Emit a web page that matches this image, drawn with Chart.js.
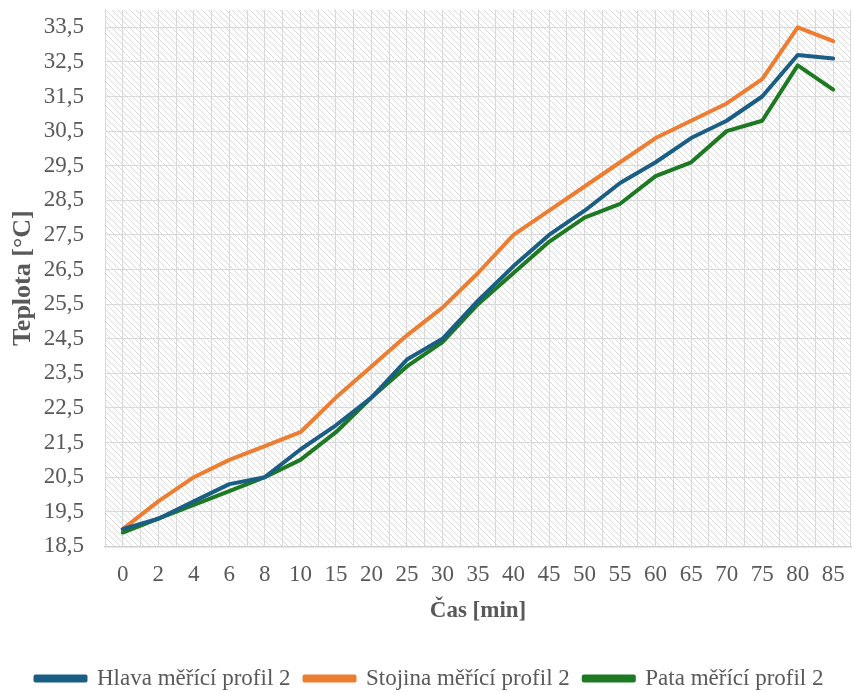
<!DOCTYPE html>
<html>
<head>
<meta charset="utf-8">
<script src="https://cdn.jsdelivr.net/npm/chart.js@4.4.0/dist/chart.umd.min.js"></script>
<style>
    html, body { margin: 0; padding: 0; background: #fff; }
    #wrap { width: 852px; height: 693px; }
</style>
</head>
<body>
<div id="wrap"><canvas id="teplotaChart"></canvas></div>
<script>
const casMin = ['0', '2', '4', '6', '8', '10', '15', '20', '25', '30', '35', '40', '45', '50', '55', '60', '65', '70', '75', '80', '85'];
const hlava = [19.0, 19.3, 19.8, 20.3, 20.5, 21.3, 22.0, 22.8, 23.9, 24.5, 25.6, 26.6, 27.5, 28.2, 29.0, 29.6, 30.3, 30.8, 31.5, 32.7, 32.6];
const stojina = [19.0, 19.8, 20.5, 21.0, 21.4, 21.8, 22.8, 23.7, 24.6, 25.4, 26.4, 27.5, 28.2, 28.9, 29.6, 30.3, 30.8, 31.3, 32.0, 33.5, 33.1];
const pata = [18.9, 19.3, 19.7, 20.1, 20.5, 21.0, 21.8, 22.8, 23.7, 24.4, 25.5, 26.4, 27.3, 28.0, 28.4, 29.2, 29.6, 30.5, 30.8, 32.4, 31.7];
const yTicks = [18.5, 19.5, 20.5, 21.5, 22.5, 23.5, 24.5, 25.5, 26.5, 27.5, 28.5, 29.5, 30.5, 31.5, 32.5, 33.5];

const serif = "'Liberation Serif', 'Times New Roman', serif";
const textColor = '#595959';
const gridColor = '#d9d9d9';

// diagonal hatch for the plot area
function makeHatch() {
    const c = document.createElement('canvas');
    c.width = 6;
    c.height = 6;
    const g = c.getContext('2d');
    g.strokeStyle = '#dcdcdc';
    g.lineWidth = 1;
    g.beginPath();
    g.moveTo(-1, -1);
    g.lineTo(7, 7);
    g.moveTo(-1, 5);
    g.lineTo(1, 7);
    g.moveTo(5, -1);
    g.lineTo(7, 1);
    g.stroke();
    return c;
}

const hatchPlugin = {
    id: 'hatch',
    beforeDraw(chart) {
        const a = chart.chartArea;
        const ctx = chart.ctx;
        ctx.save();
        ctx.fillStyle = ctx.createPattern(makeHatch(), 'repeat');
        ctx.fillRect(a.left, a.top, a.right - a.left, a.bottom - a.top);
        ctx.restore();
    }
};

function serie(label, values, color) {
    return {
        label: label,
        data: values,
        borderColor: color,
        backgroundColor: color,
        borderWidth: 4,
        pointRadius: 0,
        pointHoverRadius: 0,
        tension: 0,
        fill: false,
        borderJoinStyle: 'round',
        borderCapStyle: 'round'
    };
}

const config = {
    type: 'line',
    data: {
        labels: casMin,
        datasets: [
            serie('Hlava měřící profil 2', hlava, '#1b5e85'),
            serie('Stojina měřící profil 2', stojina, '#ed7d31'),
            serie('Pata měřící profil 2', pata, '#1e7a22')
        ]
    },
    options: {
        responsive: true,
        maintainAspectRatio: false,
        animation: false,
        layout: {
            padding: { top: 10, right: 1, left: 8, bottom: -7 }
        },
        scales: {
            x: {
                offset: true,
                afterFit(scale) {
                    scale.height = 106.6;
                    scale.paddingLeft = 0;
                    scale.paddingRight = 0;
                },
                grid: { offset: true, color: gridColor, drawTicks: false },
                border: { display: true, color: '#d0d0d0', width: 1.5 },
                ticks: {
                    color: textColor,
                    font: { family: serif, size: 23 },
                    padding: 15,
                    maxRotation: 0,
                    autoSkip: false
                },
                title: {
                    display: true,
                    text: 'Čas [min]',
                    color: textColor,
                    font: { family: serif, size: 23, weight: 'bold' },
                    padding: { top: 4, bottom: 28 }
                }
            },
            x2: {
                position: 'top',
                offset: true,
                afterFit(scale) {
                    scale.height = 0;
                    scale.paddingLeft = 0;
                    scale.paddingRight = 0;
                },
                grid: { offset: false, color: gridColor, drawTicks: false },
                border: { display: false },
                ticks: { display: false }
            },
            y: {
                min: 18.5,
                max: 34,
                afterBuildTicks(scale) {
                    scale.ticks = yTicks.map(v => ({ value: v }));
                },
                afterFit(scale) {
                    scale.width = 97;
                    scale.paddingTop = 0;
                    scale.paddingBottom = 0;
                },
                grid: { color: gridColor, drawTicks: false },
                border: { display: false },
                ticks: {
                    color: textColor,
                    font: { family: serif, size: 23 },
                    padding: 21,
                    callback: v => Number(v).toFixed(1).replace('.', ',')
                },
                title: {
                    display: true,
                    text: 'Teplota [°C]',
                    color: textColor,
                    font: { family: serif, size: 26, weight: 'bold' },
                    padding: { top: 0, bottom: 4 }
                }
            }
        },
        plugins: {
            legend: {
                position: 'bottom',
                labels: {
                    color: textColor,
                    font: { family: serif, size: 23 },
                    boxWidth: 50,
                    boxHeight: 4,
                    padding: 14
                }
            },
            tooltip: { enabled: false }
        }
    },
    plugins: [hatchPlugin]
};

const ctx = document.getElementById('teplotaChart').getContext('2d');
new Chart(ctx, config);
</script>
</body>
</html>
